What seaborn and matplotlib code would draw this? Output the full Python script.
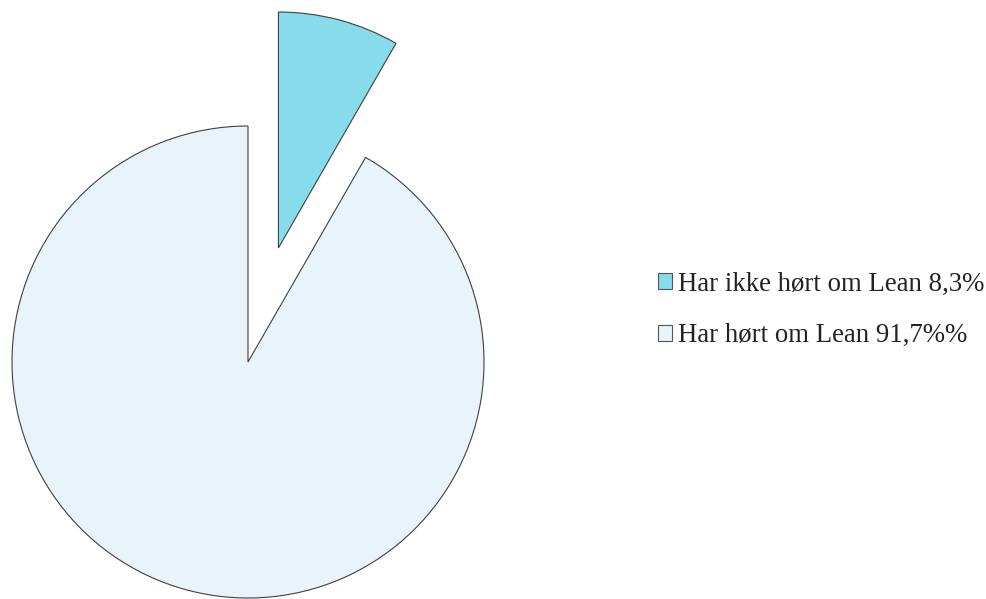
import matplotlib
matplotlib.use("Agg")
import matplotlib.pyplot as plt
from matplotlib.patches import Patch
import seaborn as sns

# Survey answers: share of respondents who have heard of Lean
labels = ["Har ikke hørt om Lean 8,3%", "Har hørt om Lean 91,7%%"]
shares = [8.3, 91.7]
colors = ["#86DCEA", "#E8F4FA"]
explode_frac = [0.5, 0.0]

sns.set_style("white")
plt.rcParams["font.family"] = ["Liberation Serif", "DejaVu Serif"]

W, H = 986, 599
fig = plt.figure(figsize=(W / 100, H / 100), dpi=100)
ax = fig.add_axes([0, 0, 1, 1])

radius = 236
ax.pie(
    shares,
    explode=[e * radius for e in explode_frac],
    colors=colors,
    startangle=90,
    counterclock=False,
    center=(248, H - 362),
    radius=radius,
    frame=True,
    wedgeprops=dict(edgecolor="#404040", linewidth=0.8),
)
ax.set_xlim(0, W)
ax.set_ylim(0, H)
ax.set_aspect("equal")
ax.axis("off")

handles = [Patch(facecolor=c, edgecolor="#555555", linewidth=0.8) for c in colors]
fig.legend(
    handles,
    labels,
    loc="center left",
    bbox_to_anchor=(634 / W, 1 - 310 / H),
    frameon=False,
    fontsize=19.3,
    handlelength=0.5,
    handleheight=0.5,
    handletextpad=0.23,
    labelspacing=1.0,
    labelcolor="#222222",
)

fig.savefig("out.png", dpi=100, facecolor="white")
